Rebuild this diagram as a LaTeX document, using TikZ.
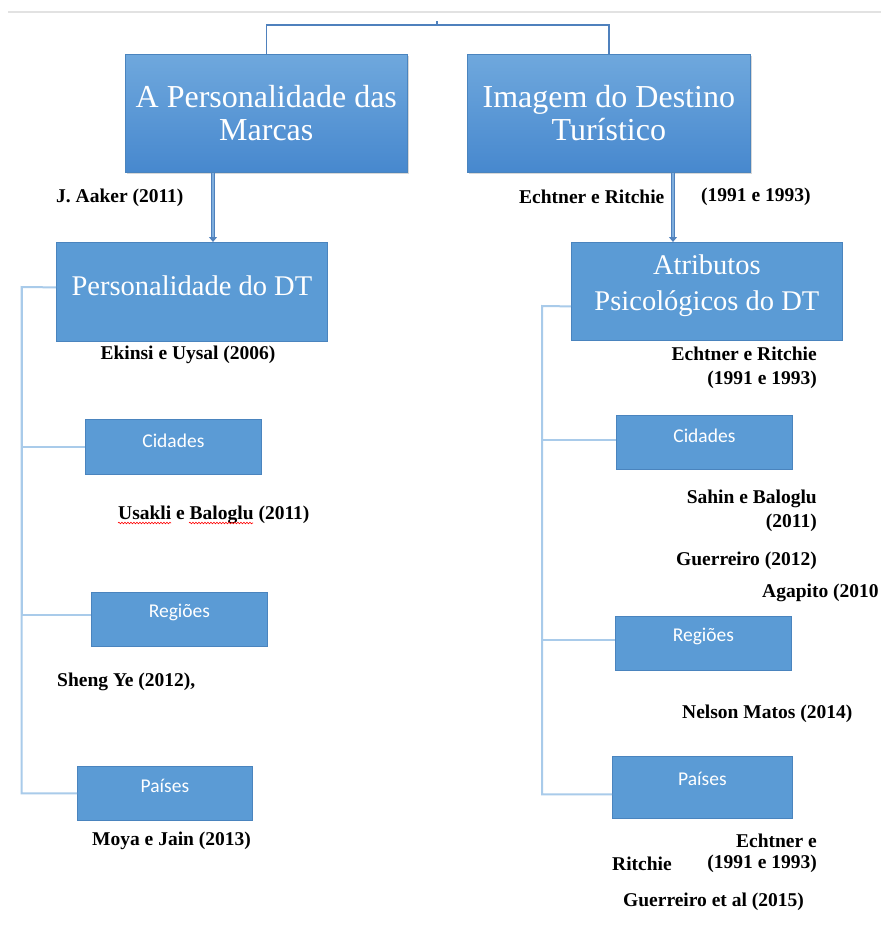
\documentclass[tikz,border=0pt]{standalone}
\usepackage{fontspec}
\setmainfont{Liberation Serif}
\newfontfamily\carlitofont{Carlito}
\usetikzlibrary{shadows,arrows.meta,decorations.pathmorphing}
\definecolor{boxfill}{HTML}{5B9BD5}
\definecolor{boxdraw}{HTML}{4A84BE}
\definecolor{gradtop}{HTML}{6FA8DD}
\definecolor{gradbot}{HTML}{4788CE}
\definecolor{bracketblue}{HTML}{4F81BD}
\definecolor{treeblue}{HTML}{A9CBEA}
\definecolor{arrowlight}{HTML}{7FAEDD}
\definecolor{topgray}{HTML}{E2E2E2}
\tikzset{
  topbox/.style={rectangle, draw=boxdraw, line width=0.6pt, top color=gradtop, bottom color=gradbot,
    inner sep=0pt, anchor=north west, text=white, align=center,
    font=\fontsize{32}{33}\selectfont,
    drop shadow={shadow xshift=1.5pt, shadow yshift=-2pt, opacity=0.3}},
  midbox/.style={rectangle, draw=boxdraw, line width=0.8pt, fill=boxfill, inner sep=0pt, anchor=north west},
  smallbox/.style={rectangle, draw=boxdraw, line width=0.8pt, fill=boxfill, inner sep=0pt, anchor=north west},
  bigtext/.style={text=white, inner sep=0pt, align=center, font=\fontsize{28.5}{36}\selectfont},
  smalltext/.style={text=white, inner sep=0pt, font=\carlitofont\fontsize{19.5}{22}\selectfont},
  ref/.style={inner sep=0pt, font=\bfseries\fontsize{19.5}{24}\selectfont},
  bracket/.style={draw=bracketblue, line width=1.6pt},
  tree/.style={draw=treeblue, line width=2pt},
  bigarrow/.style={draw=bracketblue, double=arrowlight, double distance=1.8pt, line width=1.1pt,
    -{Triangle[length=5pt,width=8pt]}},
  squig/.style={draw=red, line width=0.6pt, decorate, decoration={snake, amplitude=0.8pt, segment length=3pt}}
}
\begin{document}
\begin{tikzpicture}[x=1pt,y=-1pt]
\fill[white] (0,0) rectangle (881,930);
\useasboundingbox (0,0) rectangle (881,930);
% top gray line
\draw[topgray, line width=1.5pt] (8,12) -- (881,12);

% top boxes
\node[topbox, minimum width=282pt, minimum height=118pt] (b1) at (125,54) {A Personalidade das\\Marcas};
\node[topbox, minimum width=283pt, minimum height=118pt] (b2) at (467,54) {Imagem do Destino\\Turístico};

% bracket
\coordinate (top) at (437,25);
\draw[bracket] (b1.north) |- (top) -| (b2.north);
\draw[bracket] (top) -- ++(0,-4);

% second level
\node[midbox, minimum width=271pt, minimum height=99pt] (b3) at (56,242) {};
\node[bigtext] (b3t) at ([yshift=6.5pt]b3.center) {Personalidade do DT};
\node[midbox, minimum width=271pt, minimum height=98pt] (b4) at (571,242) {};
\node[bigtext] (b4t) at ([yshift=6pt]b4.center) {Atributos\\Psicológicos do DT};

\draw[bigarrow] (b1.south -| 213,0) -- (b3.north -| 213,0);
\draw[bigarrow] (b2.south -| 673,0) -- (b4.north -| 673,0);

% left small boxes
\node[smallbox, minimum width=176pt, minimum height=55pt] (lc) at (85,419) {};
\node[smalltext] (lct) at ([yshift=6.5pt]lc.center) {Cidades};
\node[smallbox, minimum width=176pt, minimum height=54pt] (lr) at (91,592) {};
\node[smalltext] (lrt) at ([yshift=7pt]lr.center) {Regiões};
\node[smallbox, minimum width=175pt, minimum height=54pt] (lp) at (77,766) {};
\node[smalltext] (lpt) at ([yshift=7pt]lp.center) {Países};

% right small boxes
\node[smallbox, minimum width=176pt, minimum height=54pt] (rc) at (616,415) {};
\node[smalltext] (rct) at ([yshift=7pt]rc.center) {Cidades};
\node[smallbox, minimum width=176pt, minimum height=54pt] (rr) at (615,616) {};
\node[smalltext] (rrt) at ([yshift=7pt]rr.center) {Regiões};
\node[smallbox, minimum width=180pt, minimum height=62pt] (rp) at (612,756) {};
\node[smalltext] (rpt) at ([yshift=8pt]rp.center) {Países};

% left tree
\coordinate (lt) at (21.5,287);
\draw[tree] ([yshift=4.5pt]b3.west) -- (lt) |- (lp.west);
\draw[tree] (lt) |- (lc.west);
\draw[tree] (lt) |- ([yshift=4pt]lr.west);

% right tree
\coordinate (rt) at (542,306);
\draw[tree] ([yshift=-15pt]b4.west) -- (rt) |- ([yshift=-7pt]rp.west);
\draw[tree] (rt) |- ([yshift=2pt]rc.west);
\draw[tree] (rt) |- ([yshift=3pt]rr.west);

% references
\node[ref, anchor=west] (r1) at (56,198) {J. Aaker (2011)};
\node[ref, anchor=west] (r2) at (519,197) {Echtner e Ritchie};
\node[ref, anchor=west] (r3) at (701,197) {(1991 e 1993)};
\node[ref] (r4) at (188,355) {Ekinsi e Uysal (2006)};
\node[ref, anchor=base west] (us) at (118,519) {Usakli e Baloglu (2011)};
\draw[squig] ([yshift=-4pt]us.base west) -- ++(53,0);
\draw[squig] ([xshift=71pt,yshift=-4pt]us.base west) -- ++(64,0);
\node[ref, anchor=west] (r6) at (57,682) {Sheng Ye (2012),};
\node[ref, anchor=west] (r7) at (92,841) {Moya e Jain (2013)};

\node[ref, anchor=east, align=right] (r8) at (817,368) {Echtner e Ritchie\\(1991 e 1993)};
\node[ref, anchor=east, align=right] (r9) at (817,511) {Sahin e Baloglu\\(2011)};
\node[ref, anchor=east] (r10) at (817,561) {Guerreiro (2012)};
\node[ref, anchor=west] (r11) at (762,593) {Agapito (2010};
\node[ref, anchor=west] (r12) at (682,714) {Nelson Matos (2014)};
\node[ref, anchor=east] (r13) at (817,841) {Echtner e};
\node[ref, anchor=west] (r14) at (612,864) {Ritchie};
\node[ref, anchor=east] (r15) at (817,864) {(1991 e 1993)};
\node[ref, anchor=west] (r16) at (623,902) {Guerreiro et al (2015)};
\end{tikzpicture}
\end{document}
